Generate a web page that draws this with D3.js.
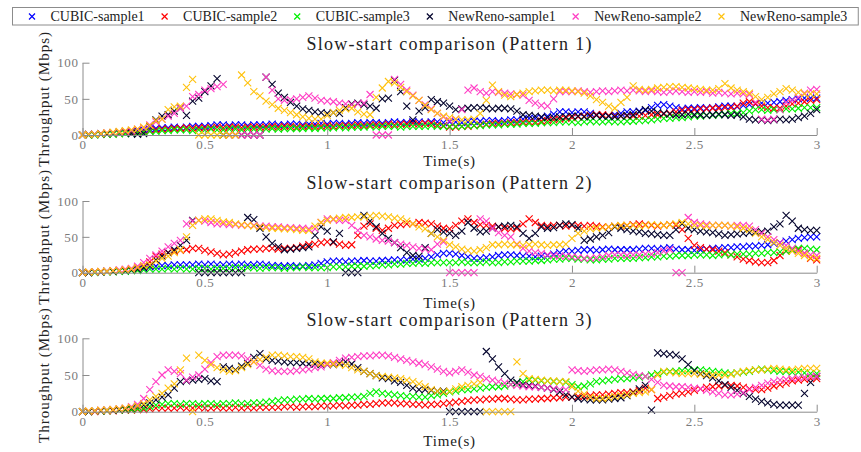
<!DOCTYPE html>
<html>
<head>
<meta charset="utf-8">
<script src="https://cdn.jsdelivr.net/npm/d3@7"></script>
<style>
  body { margin: 0; background: #fff; }
  svg text { font-family: "Liberation Serif", serif; }
  .axis .domain, .axis line { stroke: #8c8c8c; }
  .axis text { fill: #7a7a7a; font-size: 13px; letter-spacing: 0.6px; font-family: "Liberation Serif", serif; }
</style>
</head>
<body>
<script>
// sample spacing of every series (s)
var STEP = 0.025;

var seriesNames = ["CUBIC-sample1", "CUBIC-sample2", "CUBIC-sample3", "NewReno-sample1", "NewReno-sample2", "NewReno-sample3"];
var seriesColors = ["#0000ff", "#ff0000", "#00f000", "#05052e", "#ff3dc4", "#ffc20e"];
var xTicks = [0, 0.5, 1, 1.5, 2, 2.5, 3];
var yTicks = [0, 50, 100];
var panelTitles = ["Slow-start comparison (Pattern 1)", "Slow-start comparison (Pattern 2)", "Slow-start comparison (Pattern 3)"];

// ---- Pattern 1 ----
var p1_cubic1 = [0,1,1,2,2,3,3,4,5,6, 7,8,9,10,10,11,10,11,12,12, 12,13,14,14,13,14,14,13,14,14, 14,15,14,14,15,15,14,15,15,16,
  15,16,16,15,16,17,16,17,17,16, 17,18,17,17,18,18,17,18,18,17, 18,18,17,18,19,19,20,20,19,20, 21,21,22,23,23,24,26,29,32,32,
  31,32,32,30,28,26,26,28,30,32, 32,33,34,38,41,42,40,38,36,37, 37,38,37,38,39,40,40,39,41,42, 43,44,44,45,46,48,49,50,51,51, 51];
var p1_cubic2 = [0,0,1,1,2,2,2,3,3,4, 5,6,7,8,8,9,9,10,9,10, 10,10,11,10,11,11,10,11,11,11, 11,12,11,12,12,11,12,12,12,12,
  13,12,13,13,13,14,13,14,14,14, 15,14,15,15,16,15,16,16,14,13, 11,11,12,12,13,14,15,16,16,16, 17,17,18,18,18,19,20,21,22,23,
  24,25,26,27,28,28,27,26,26,26, 26,26,27,28,28,29,30,32,34,35, 35,36,36,37,37,38,38,40,44,46, 43,40,38,37,37,40,43,44,46,48, 49];
var p1_cubic3 = [0,0,0,1,1,1,2,2,2,3, 4,5,5,6,6,7,7,7,6,7, 7,8,7,7,8,8,7,8,8,8, 8,9,8,9,9,9,9,10,9,10,
  10,10,11,10,11,11,11,12,11,12, 12,12,11,12,12,12,12,13,12,12, 12,12,12,13,13,13,14,14,14,15, 15,15,16,16,16,17,17,17,18,18,
  18,17,18,19,18,18,19,18,18,19, 19,20,20,21,22,23,23,24,24,25, 26,26,27,27,28,29,30,30,31,33, 35,35,34,35,35,36,36,37,38,38, 38];
var p1_reno1 = [0,1,1,2,2,3,4,5,2,1, 2,12,21,26,28,33,37,27,47,51, 60,68,78,0,0,0,0,0,0,0, 80,70,58,52,45,40,36,34,32,31,
  30,31,30,38,43,44,42,40,37,50, 51,76,60,40,21,33,38,49,46,44, 40,35,36,37,38,38,37,36,37,37, 36,33,28,27,26,25,24,24,25,25,
  26,26,25,26,27,26,26,25,26,27, 28,32,35,33,31,30,29,28,28,29, 28,28,27,28,29,28,27,28,25,22, 21,21,20,21,22,21,22,24,26,30, 35];
var p1_reno2 = [0,1,1,2,3,3,4,5,6,8, 10,14,18,22,26,30,37,40,53,56, 62,64,67,70,0,0,0,0,0,0, 80,62,50,48,49,50,52,54,51,48,
  47,46,44,43,42,43,44,56,0,0, 0,77,70,62,55,48,42,36,30,25, 20,22,35,62,65,60,58,60,59,58, 57,56,55,48,44,41,40,50,60,60,
  60,61,60,59,60,61,60,61,62,61, 62,61,60,61,60,59,60,61,60,59, 60,59,60,58,59,58,57,58,57,56, 45,22,21,22,35,45,48,52,58,62, 63];
var p1_reno3 = [0,1,1,2,3,4,5,6,7,8, 11,13,20,22,35,39,40,66,77,0, 0,0,0,0,0,0,83,72,60,54, 47,42,37,34,31,28,25,23,22,22,
  27,31,34,36,37,32,29,28,52,65, 74,72,66,60,54,48,41,35,30,26, 24,22,21,21,22,30,48,69,60,55, 53,56,58,60,61,62,62,61,62,62,
  61,60,58,54,49,45,40,37,45,52, 68,63,62,63,65,66,67,67,66,65, 64,63,62,62,64,71,65,62,60,58, 53,49,52,57,60,64,62,59,57,57, 57];

// ---- Pattern 2 ----
var p2_cubic1 = [0,0,1,1,2,2,3,3,4,5, 6,8,9,10,10,11,11,11,11,12, 11,12,11,11,12,11,12,11,11,12, 11,10,10,9,10,9,9,10,11,13,
  15,16,16,15,16,16,17,16,16,17, 17,18,18,18,19,19,20,22,25,27, 27,26,24,22,20,20,21,22,24,25, 25,24,23,23,22,23,24,26,28,30,
  30,31,32,32,31,32,33,32,32,32, 32,33,34,34,33,34,35,33,32,32, 31,32,33,34,34,35,35,36,36,37, 37,38,39,41,42,44,46,48,49,50, 50];
var p2_cubic2 = [0,0,1,1,2,2,3,4,5,7, 9,15,23,26,28,30,31,32,34,34, 31,29,27,25,26,28,30,32,33,33, 34,34,33,34,34,35,37,39,40,42,
  43,42,40,38,39,52,65,68,62,59, 62,66,67,68,68,70,69,68,65,62, 61,66,72,75,70,67,66,65,64,62, 61,62,68,75,70,66,65,66,66,65,
  66,66,65,66,65,64,64,65,65,66, 67,68,67,66,65,66,67,66,60,48, 38,35,33,32,30,28,25,22,19,17, 15,14,14,17,24,30,32,32,27,20, 18];
var p2_cubic3 = [0,0,0,1,1,1,2,2,3,3, 4,5,5,5,6,5,6,5,5,6, 6,5,6,6,6,7,6,7,7,6, 7,7,7,6,7,7,8,7,7,7,
  7,8,8,8,9,9,9,10,10,11, 11,12,12,13,13,14,13,14,14,14, 14,14,15,14,14,14,15,14,14,15, 15,16,16,16,17,17,18,19,19,20,
  20,19,19,18,18,19,19,20,20,20, 20,21,21,22,22,23,23,24,24,24, 25,25,25,24,25,26,25,26,26,26, 27,27,28,28,29,30,32,34,34,33, 32];
var p2_reno1 = [0,0,1,1,2,2,3,3,4,5, 7,10,18,23,28,32,38,45,73,0, 0,0,0,0,0,0,0,77,74,62, 50,41,36,32,33,34,35,36,52,64,
  58,43,55,0,0,0,80,72,64,55, 48,42,35,28,24,23,35,55,60,57, 55,52,58,70,62,57,58,62,64,65, 66,64,55,48,55,64,62,63,66,68,
  67,62,45,47,50,52,56,64,62,60, 58,57,55,54,53,52,52,60,68,62, 60,58,57,56,54,52,53,54,55,56, 57,57,58,64,68,80,72,62,60,59, 59];
var p2_reno2 = [0,1,1,2,2,3,4,5,6,9, 14,20,25,30,36,41,45,68,72,73, 72,70,68,68,67,67,66,66,66,65, 65,64,64,63,63,62,62,61,61,70,
  75,74,73,73,66,59,52,50,47,45, 44,42,40,38,36,34,33,32,40,43, 0,0,0,0,0,75,72,62,56,52, 50,40,34,30,28,27,25,24,23,23,
  22,21,20,20,21,22,24,25,25,24, 25,25,26,26,28,30,32,0,0,77, 70,68,67,66,66,66,65,66,66,65, 60,55,50,46,42,38,34,30,27,25, 24];
var p2_reno3 = [0,1,1,2,2,3,3,4,5,7, 10,11,16,20,23,28,32,50,66,73, 75,75,73,71,70,68,67,66,65,64, 63,62,62,61,61,60,59,59,65,70,
  73,75,76,77,77,78,78,79,80,79, 78,76,75,72,68,64,61,55,50,45, 39,36,33,31,30,32,35,39,39,40, 39,39,38,39,40,39,38,39,39,40,
  48,55,58,61,62,63,64,65,66,66, 66,65,66,67,66,66,67,68,70,68, 66,66,65,66,66,66,65,64,62,60, 55,50,46,42,38,34,30,27,24,21, 20];

// ---- Pattern 3 ----
var p3_cubic1 = [];
var p3_cubic2 = [0,0,0,1,1,1,2,2,2,3, 3,4,5,5,5,5,6,5,5,6, 5,5,6,5,5,6,5,6,5,6, 6,6,6,7,7,6,7,7,7,8,
  8,8,9,8,9,9,10,10,11,12, 12,12,11,11,10,10,9,10,10,11, 12,13,14,15,16,16,17,17,18,18, 17,16,16,17,17,18,18,19,19,20,
  20,21,21,22,23,23,24,25,26,26, 27,29,32,30,18,20,22,24,25,27, 29,31,33,34,35,36,36,35,33,31, 30,30,32,35,37,39,42,43,44,45, 45];
var p3_cubic3 = [0,0,1,1,1,2,2,3,3,4, 5,7,9,10,11,11,10,11,11,10, 11,11,10,11,11,12,11,11,12,12, 13,14,15,16,16,17,17,18,17,18,
  18,18,19,19,20,20,21,25,27,25, 24,23,22,21,21,20,20,22,23,25, 27,28,30,30,31,32,33,34,34,35, 37,39,41,43,43,42,42,41,41,40,
  37,34,35,38,41,42,43,44,45,45, 46,47,48,50,52,54,55,55,56,56, 57,57,56,55,54,53,52,53,54,55, 57,58,57,56,55,55,54,54,53,52, 52];
var p3_reno1 = [0,0,1,1,2,2,3,4,5,7, 9,12,16,20,23,32,41,42,43,44, 45,42,41,61,59,57,62,66,74,79, 72,70,69,68,67,67,66,65,65,64,
  64,64,66,68,65,60,55,52,49,46, 45,42,40,36,32,30,30,29,28,28, 0,0,0,0,0,0,82,72,61,52, 43,40,37,36,35,33,32,30,27,23,
  20,18,17,16,16,16,17,18,19,22, 26,31,36,2,80,79,78,77,72,64, 56,52,49,46,42,37,33,29,25,21, 17,14,12,10,9,9,9,9,25,40, 48];
var p3_reno2 = [0,1,1,2,2,3,4,5,7,10, 18,30,41,50,57,55,52,43,47,50, 58,67,75,77,77,77,76,72,68,63, 58,56,55,55,55,56,57,58,60,61,
  64,67,70,73,74,75,76,76,77,77, 76,74,72,70,68,66,64,61,58,55, 53,55,57,54,50,48,45,43,41,39, 37,36,35,34,34,33,32,31,30,30,
  57,56,55,56,57,57,58,57,55,53, 51,49,48,44,40,36,35,34,34,33, 32,31,29,27,25,23,23,24,26,30, 33,36,39,41,43,44,45,46,47,48, 48];
var p3_reno3 = [0,1,1,2,2,3,4,5,6,8, 11,16,21,25,32,38,57,73,0,77, 70,64,60,57,55,56,60,64,68,71, 74,77,77,76,75,75,74,72,68,66,
  66,65,64,63,60,57,55,52,49,48, 47,46,45,43,41,38,34,30,28,27, 28,31,34,36,38,40,0,0,0,0, 0,68,52,45,44,43,42,42,41,41,
  34,28,24,20,18,18,19,21,22,23, 25,26,27,30,50,55,54,53,52,52, 52,51,51,50,50,50,51,53,55,56, 57,57,58,59,58,57,57,58,59,59, 59];

var panelData = [
  [p1_cubic1, p1_cubic2, p1_cubic3, p1_reno1, p1_reno2, p1_reno3],
  [p2_cubic1, p2_cubic2, p2_cubic3, p2_reno1, p2_reno2, p2_reno3],
  [p3_cubic1, p3_cubic2, p3_cubic3, p3_reno1, p3_reno2, p3_reno3]
];

// layout (pixels)
var width = 861, height = 452;
var plotLeft = 82.5, plotRight = 816.7;
var panelTop = [62.7, 201, 338.3];
var panelBottom = [135, 272.7, 411.7];

var svg = d3.select("body").append("svg")
  .attr("width", width)
  .attr("height", height);

var x = d3.scaleLinear().domain([0, 3]).range([plotLeft, plotRight]);

// x marker paths
var cross = "M-3.5,-3.5L3.5,3.5M-3.5,3.5L3.5,-3.5";
var smallCross = "M-3,-3L3,3M-3,3L3,-3";

panelData.forEach(function (series, p) {
  var y = d3.scaleLinear().domain([0, 100]).range([panelBottom[p], panelTop[p]]);

  var g = svg.append("g");

  series.forEach(function (vals, s) {
    g.append("g")
      .selectAll("path")
      .data(vals)
      .enter()
      .append("path")
      .attr("d", cross)
      .attr("transform", (d, i) => "translate(" + x(i * STEP) + "," + y(d) + ")")
      .attr("fill", "none")
      .attr("stroke", seriesColors[s])
      .attr("stroke-width", 1.1);
  });

  // x axis, ticks pointing inward
  g.append("g")
    .attr("class", "axis")
    .attr("transform", "translate(0," + panelBottom[p] + ")")
    .call(d3.axisBottom(x).tickValues(xTicks).tickFormat(d => String(d))
      .tickSizeInner(-7).tickSizeOuter(0).tickPadding(5));

  // y axis
  g.append("g")
    .attr("class", "axis")
    .attr("transform", "translate(" + plotLeft + ",0)")
    .call(d3.axisLeft(y).tickValues(yTicks).tickSizeInner(-7).tickSizeOuter(0).tickPadding(4));

  // title
  g.append("text")
    .attr("x", (plotLeft + plotRight) / 2)
    .attr("y", panelTop[p] - 12.5)
    .attr("text-anchor", "middle")
    .style("font-size", "18px")
    .style("letter-spacing", "1.3px")
    .style("fill", "#222")
    .text(panelTitles[p]);

  // x label
  g.append("text")
    .attr("x", (plotLeft + plotRight) / 2)
    .attr("y", panelBottom[p] + [30.5, 35, 34][p])
    .attr("text-anchor", "middle")
    .style("font-size", "15px")
    .style("letter-spacing", "0.8px")
    .style("fill", "#222")
    .text("Time(s)");

  // y label
  g.append("text")
    .attr("transform", "translate(49," + (panelTop[p] + panelBottom[p]) / 2 + ") rotate(-90)")
    .attr("text-anchor", "middle")
    .style("font-size", "15px")
    .style("letter-spacing", "1px")
    .style("fill", "#222")
    .text("Throughput (Mbps)");
});

// legend
var legend = svg.append("g");
var legendBox = legend.append("rect")
  .attr("x", 12.5)
  .attr("y", 7.5)
  .attr("height", 17.5)
  .attr("fill", "#fff")
  .attr("stroke", "#8c8c8c");

var lx = 32;
seriesNames.forEach(function (name, s) {
  legend.append("path")
    .attr("d", smallCross)
    .attr("transform", "translate(" + lx + ",16.5)")
    .attr("fill", "none")
    .attr("stroke", seriesColors[s])
    .attr("stroke-width", 1.2);
  var t = legend.append("text")
    .attr("x", lx + 18.5)
    .attr("y", 21)
    .style("font-size", "14px")
    .style("fill", "#222")
    .text(name);
  lx += 18.5 + t.node().getComputedTextLength() + 20;
});
legendBox.attr("width", lx - 20 + 11 - 12.5);
</script>
</body>
</html>
